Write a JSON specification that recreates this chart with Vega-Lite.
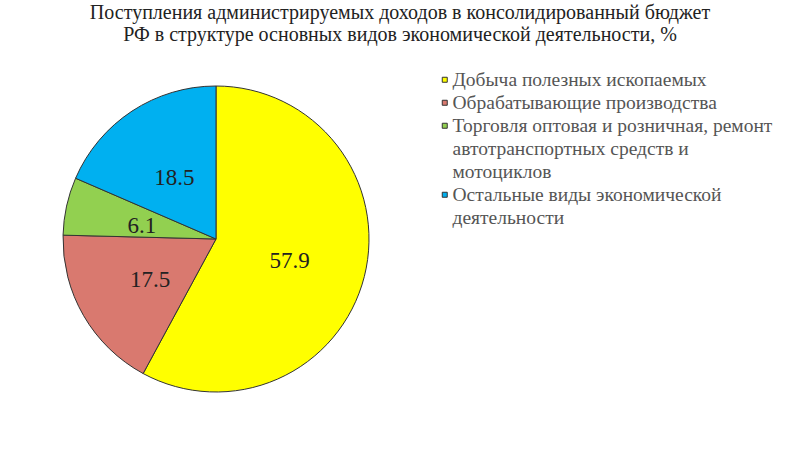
{
  "$schema": "https://vega.github.io/schema/vega-lite/v6.json",
  "autosize": "none",
  "width": 306,
  "height": 306,
  "padding": {"left": 63, "top": 86, "right": 431, "bottom": 58},
  "background": "white",
  "config": {"style": {"guide-label": {"lineHeight": 23.3}}},
  "title": {
    "text": ["Поступления администрируемых доходов в консолидированный бюджет", "РФ в структуре основных видов экономической деятельности, %"],
    "font": "Liberation Serif",
    "fontSize": 20,
    "fontWeight": "normal",
    "color": "#222222",
    "lineHeight": 22,
    "anchor": "middle",
    "dx": 184,
    "offset": 25
  },
  "data": {
    "values": [
      {"category": "Добыча полезных ископаемых", "value": 57.9, "order": 1},
      {"category": "Обрабатывающие производства", "value": 17.5, "order": 2},
      {"category": "Торговля оптовая и розничная, ремонт|автотранспортных средств и|мотоциклов", "value": 6.1, "order": 3},
      {"category": "Остальные виды экономической|деятельности", "value": 18.5, "order": 4}
    ]
  },
  "encoding": {
    "theta": {"field": "value", "type": "quantitative", "stack": true},
    "order": {"field": "order", "type": "quantitative"}
  },
  "layer": [
    {
      "mark": {"type": "arc", "stroke": "#333333", "strokeWidth": 1},
      "encoding": {
        "color": {
          "field": "category",
          "type": "nominal",
          "sort": null,
          "scale": {
            "domain": ["Добыча полезных ископаемых", "Обрабатывающие производства", "Торговля оптовая и розничная, ремонт|автотранспортных средств и|мотоциклов", "Остальные виды экономической|деятельности"],
            "range": ["#FFFF00", "#D9796F", "#92D050", "#00B0F0"]
          },
          "legend": {
            "title": null,
            "orient": "none",
            "legendX": 372,
            "legendY": -16,
            "labelExpr": "split(datum.label, '|')",
            "labelFont": "Liberation Serif",
            "labelFontSize": 19.5,
            "labelColor": "#555555",
            "labelLimit": 400,
            "labelOffset": -2,
            "symbolType": "square",
            "symbolSize": 25,
            "symbolStrokeWidth": 1,
            "rowPadding": 2,
            "encode": {
              "symbols": {
                "update": {
                  "stroke": {"value": "#777777"},
                  "y": {"signal": "datum.index == 2 ? 25.8 : datum.index == 3 ? 14.15 : 2.5"}
                }
              }
            }
          }
        }
      }
    },
    {
      "mark": {"type": "text", "radius": 76, "dy": 3, "font": "Liberation Serif", "fontSize": 23, "color": "#222222"},
      "encoding": {
        "text": {"field": "value", "type": "quantitative", "format": ".1f"}
      }
    }
  ]
}
